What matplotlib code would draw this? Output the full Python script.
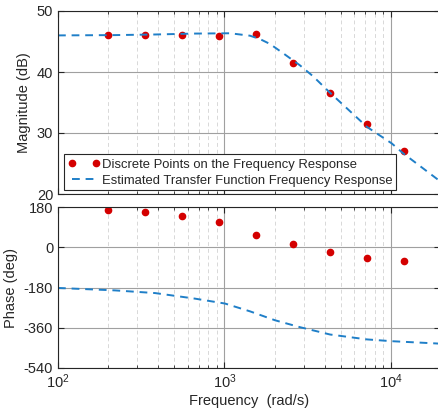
import matplotlib.pyplot as plt
import matplotlib.ticker as mticker

plt.rcParams['font.family'] = ['Liberation Sans', 'DejaVu Sans']
plt.rcParams['axes.unicode_minus'] = False

# discrete measured points
freq_pts = [200, 333, 555, 925, 1540, 2570, 4280, 7140, 11900]
mag_pts = [46.0, 46.0, 46.1, 45.9, 46.3, 41.5, 36.5, 31.5, 27.0]
phase_pts = [168, 158, 140, 113, 57, 17, -21, -47, -63]

# estimated transfer function response
freq_mag = [100, 220, 383, 665, 1080, 1423, 1633, 1875, 2244, 2837, 3404,
            4305, 7175, 10100, 11800, 19700]
mag_line = [46.0, 46.05, 46.15, 46.3, 46.35, 45.95, 45.4, 44.6, 43.1, 41.1,
            39.3, 36.6, 31.0, 28.3, 26.7, 22.1]
freq_ph = [100, 220, 383, 665, 1007, 1423, 2010, 2837, 3750, 4305, 7175,
           10100, 19700]
phase_line = [-182, -193, -205, -230, -252, -287, -327, -358, -380, -391,
              -413, -421, -432]

W, H = 438, 416
fig = plt.figure(figsize=(W / 100, H / 100), dpi=100)

left = 58 / W
width = (440 - 58) / W
ax1 = fig.add_axes([left, 1 - 194 / H, width, (194 - 11) / H])
ax2 = fig.add_axes([left, 1 - 367.7 / H, width, (367.7 - 207.3) / H])

red = '#D40000'
blue = '#1F7FC8'
txt = '#262626'

ax1.plot(freq_pts, mag_pts, 'o', color=red, ms=4.5, ls='none',
         label='Discrete Points on the Frequency Response')
ax1.plot(freq_mag, mag_line, '--', color=blue, lw=1.4, dashes=(4, 3),
         label='Estimated Transfer Function Frequency Response')
ax2.plot(freq_pts, phase_pts, 'o', color=red, ms=4.5, ls='none')
ax2.plot(freq_ph, phase_line, '--', color=blue, lw=1.4, dashes=(4, 3))

for ax in (ax1, ax2):
    ax.set_xscale('log')
    ax.set_xlim(100, 19700)
    ax.xaxis.set_major_locator(mticker.LogLocator(base=10))
    ax.xaxis.set_minor_locator(mticker.LogLocator(base=10, subs=range(2, 10)))
    ax.grid(True, which='major', color='#a0a0a0', lw=0.8)
    ax.grid(True, which='minor', axis='x', color='#d8d8d8', lw=0.7, ls=(0, (4, 3)))
    ax.tick_params(which='both', direction='in', top=True, right=True,
                   colors=txt, labelsize=10.5, labelcolor=txt)
    ax.tick_params(which='major', length=4)
    ax.tick_params(which='minor', length=2.5)
    ax.xaxis.set_minor_formatter(mticker.NullFormatter())
    for s in ax.spines.values():
        s.set_color(txt)
        s.set_linewidth(0.8)
    ax.set_axisbelow(True)

ax1.set_ylim(20, 50)
ax1.set_yticks([20, 30, 40, 50])
ax1.tick_params(labelbottom=False)
ax1.set_ylabel('Magnitude (dB)', fontsize=10.5, color=txt)

ax2.set_ylim(-540, 180)
ax2.set_yticks([-540, -360, -180, 0, 180])
ax2.set_ylabel('Phase (deg)', fontsize=10.5, color=txt)
ax2.set_xlabel('Frequency  (rad/s)', fontsize=10.5, color=txt, labelpad=2)

leg = ax1.legend(loc='lower left', bbox_to_anchor=(0.008, 0.005), fontsize=9.4,
                 numpoints=2, handlelength=2.5, handletextpad=0.1,
                 borderpad=0.3, labelspacing=0.3, fancybox=False,
                 edgecolor=txt, framealpha=1, borderaxespad=0.2)
leg.get_frame().set_linewidth(0.8)
for t in leg.get_texts():
    t.set_color(txt)

fig.savefig('out.png', dpi=100)
